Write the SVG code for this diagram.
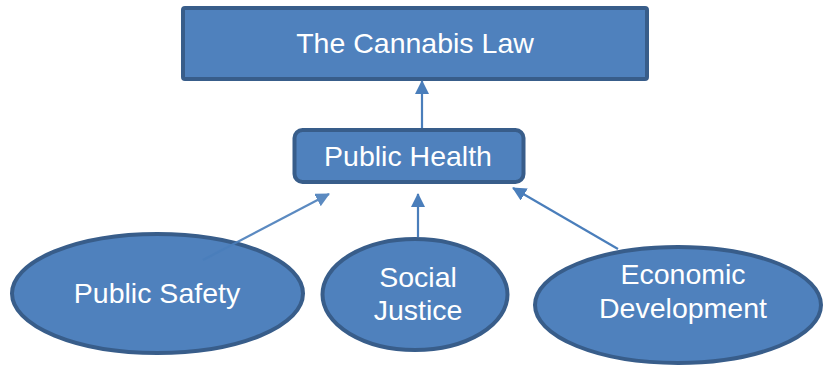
<svg xmlns="http://www.w3.org/2000/svg" width="823" height="365" viewBox="0 0 823 365">
<style>
.node{fill:#4f81bd;stroke:#385d8a;stroke-width:4}
.lbl{fill:#ffffff;font-family:"Liberation Sans",Arial,sans-serif;font-size:28.5px;text-anchor:middle}
.conn{stroke:#4a7ebb;stroke-width:2.2;fill:none}
</style>
<defs>
<marker id="ah" markerUnits="userSpaceOnUse" markerWidth="14" markerHeight="14" viewBox="0 0 14 14" refX="13" refY="7" orient="auto">
<path d="M0,0 L14,7 L0,14 z" fill="#4a7ebb"/>
</marker>
</defs>
<g id="cannabis-law">
<rect class="node" x="183" y="8" width="464" height="71" rx="2"/>
<text class="lbl" x="415" y="53">The Cannabis Law</text>
</g>
<g id="public-health">
<rect class="node" x="294.5" y="130" width="229" height="52" rx="8"/>
<text class="lbl" x="408" y="166">Public Health</text>
</g>
<g id="public-safety">
<ellipse class="node" cx="157.5" cy="293.5" rx="145.5" ry="59.5"/>
<text class="lbl" x="157" y="303">Public Safety</text>
</g>
<g id="social-justice">
<ellipse class="node" cx="415" cy="294.5" rx="92.5" ry="55.5"/>
<text class="lbl" x="418" y="287">Social</text>
<text class="lbl" x="418" y="320">Justice</text>
</g>
<g id="economic-development">
<ellipse class="node" cx="678" cy="305" rx="143" ry="58"/>
<text class="lbl" x="683" y="284">Economic</text>
<text class="lbl" x="683" y="318">Development</text>
</g>
<g id="connectors">
<line class="conn" x1="422" y1="128" x2="422" y2="81" marker-end="url(#ah)"/>
<line class="conn" x1="418" y1="237" x2="418" y2="194" marker-end="url(#ah)"/>
<line class="conn" x1="203" y1="260" x2="329" y2="194" marker-end="url(#ah)" opacity="0.9"/>
<line class="conn" x1="618" y1="249" x2="513" y2="188" marker-end="url(#ah)"/>
</g>
</svg>
